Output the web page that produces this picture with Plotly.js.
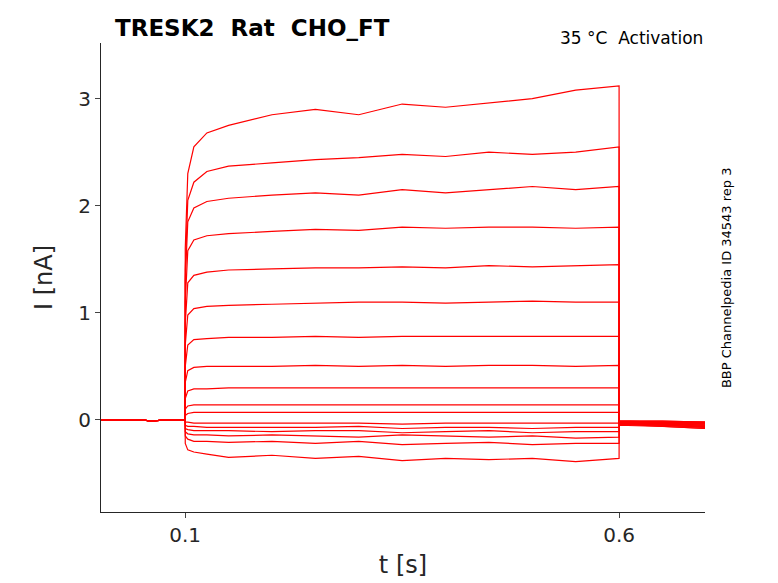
<!DOCTYPE html>
<html>
<head>
<meta charset="utf-8">
<script src="https://cdn.plot.ly/plotly-3.0.1.min.js"></script>
<style>body{margin:0;background:#fff}</style>
</head>
<body>
<div id="chart" style="width:778px;height:583px"></div>
<script>
// sample times (s)
const times = [0.003, 0.05, 0.06, 0.08, 0.1, 0.1001, 0.103, 0.11, 0.125, 0.15, 0.2, 0.25, 0.3, 0.35, 0.4, 0.45, 0.5, 0.55, 0.6, 0.6001, 0.65, 0.699];

// current sweeps (nA)
const sweeps = [
  [0, 0, -0.01, 0, 0, 1.6, 2.3, 2.55, 2.68, 2.75, 2.85, 2.9, 2.85, 2.95, 2.92, 2.96, 3.0, 3.08, 3.12, -0.04, -0.06, -0.08],
  [0, 0, -0.01, 0, 0, 1.4, 2.05, 2.22, 2.32, 2.37, 2.4, 2.43, 2.45, 2.48, 2.46, 2.5, 2.48, 2.5, 2.55, -0.04, -0.05, -0.07],
  [0, 0, -0.01, 0, 0, 1.3, 1.85, 1.98, 2.04, 2.07, 2.1, 2.12, 2.1, 2.15, 2.12, 2.15, 2.18, 2.15, 2.18, -0.03, -0.05, -0.07],
  [0, 0, -0.01, 0, 0, 1.1, 1.58, 1.68, 1.72, 1.74, 1.76, 1.78, 1.77, 1.8, 1.79, 1.8, 1.8, 1.79, 1.8, -0.03, -0.04, -0.06],
  [0, 0, -0.01, 0, 0, 0.9, 1.28, 1.35, 1.38, 1.4, 1.41, 1.42, 1.42, 1.43, 1.42, 1.44, 1.43, 1.44, 1.45, -0.03, -0.04, -0.05],
  [0, 0, -0.01, 0, 0, 0.7, 0.98, 1.04, 1.06, 1.07, 1.08, 1.09, 1.1, 1.1, 1.09, 1.1, 1.11, 1.1, 1.1, -0.02, -0.03, -0.05],
  [0, 0, -0.01, 0, 0, 0.5, 0.7, 0.75, 0.76, 0.77, 0.77, 0.78, 0.77, 0.78, 0.78, 0.78, 0.78, 0.78, 0.78, -0.02, -0.03, -0.04],
  [0, 0, -0.01, 0, 0, 0.35, 0.46, 0.49, 0.5, 0.5, 0.5, 0.51, 0.5, 0.51, 0.5, 0.51, 0.51, 0.5, 0.51, -0.02, -0.02, -0.03],
  [0, 0, -0.01, 0, 0, 0.2, 0.27, 0.29, 0.29, 0.3, 0.3, 0.3, 0.3, 0.3, 0.3, 0.3, 0.3, 0.3, 0.3, -0.01, -0.02, -0.03],
  [0, 0, -0.01, 0, 0, 0.1, 0.13, 0.14, 0.14, 0.14, 0.14, 0.14, 0.14, 0.14, 0.14, 0.14, 0.14, 0.14, 0.14, -0.01, -0.02, -0.02],
  [0, 0, -0.01, 0, 0, 0.04, 0.06, 0.07, 0.07, 0.07, 0.07, 0.07, 0.07, 0.07, 0.07, 0.07, 0.07, 0.07, 0.07, -0.01, -0.01, -0.02],
  [0, 0, -0.01, 0, 0, -0.02, -0.02, -0.03, -0.03, -0.03, -0.03, -0.03, -0.03, -0.04, -0.03, -0.03, -0.03, -0.03, -0.03, -0.01, -0.01, -0.02],
  [0, 0, -0.01, 0, 0, -0.05, -0.06, -0.06, -0.07, -0.07, -0.07, -0.07, -0.06, -0.08, -0.07, -0.07, -0.08, -0.07, -0.07, -0.02, -0.02, -0.03],
  [0, 0, -0.01, 0, 0, -0.08, -0.09, -0.1, -0.1, -0.1, -0.11, -0.1, -0.1, -0.12, -0.11, -0.1, -0.12, -0.11, -0.11, -0.02, -0.03, -0.04],
  [0, 0, -0.01, 0, 0, -0.11, -0.13, -0.14, -0.14, -0.15, -0.14, -0.15, -0.16, -0.14, -0.15, -0.16, -0.15, -0.17, -0.16, -0.03, -0.04, -0.05],
  [0, 0, -0.01, 0, 0, -0.15, -0.18, -0.2, -0.2, -0.21, -0.2, -0.22, -0.2, -0.23, -0.22, -0.21, -0.23, -0.22, -0.22, -0.04, -0.05, -0.06],
  [0, 0, -0.01, 0, 0, -0.22, -0.28, -0.3, -0.32, -0.35, -0.33, -0.36, -0.34, -0.38, -0.36, -0.37, -0.36, -0.39, -0.36, -0.05, -0.06, -0.08]
];

const xTicks = [0.1, 0.6];
const yTicks = [0, 1, 2, 3];

const traces = sweeps.map((ys) => ({
  x: times,
  y: ys,
  mode: 'lines',
  line: { color: '#ff0000', width: 1.2 },
  hoverinfo: 'skip',
}));

const layout = {
  width: 778,
  height: 583,
  showlegend: false,
  paper_bgcolor: '#ffffff',
  plot_bgcolor: '#ffffff',
  font: { family: 'DejaVu Sans', color: '#262626', size: 20 },
  margin: { l: 101, r: 73, t: 43, b: 71 },
  xaxis: {
    range: [0.003, 0.699],
    tickvals: xTicks,
    ticktext: ['0.1', '0.6'],
    ticks: 'outside',
    ticklen: 5,
    showgrid: false,
    zeroline: false,
    showline: true,
    linecolor: '#262626',
    tickfont: { size: 20 },
    title: { text: 't [s]', font: { size: 24 }, standoff: 10 },
  },
  yaxis: {
    range: [-0.86, 3.52],
    tickvals: yTicks,
    ticks: 'outside',
    ticklen: 5,
    showgrid: false,
    zeroline: false,
    showline: true,
    linecolor: '#262626',
    tickfont: { size: 20 },
    title: { text: 'I [nA]', font: { size: 24 }, standoff: 18 },
  },
  annotations: [
    { text: '<b>TRESK2  Rat  CHO_FT</b>', xref: 'paper', yref: 'paper', x: 0.02, y: 1.0,
      xanchor: 'left', yanchor: 'bottom', showarrow: false, font: { size: 23, color: '#000' } },
    { text: '35 °C  Activation', xref: 'paper', yref: 'paper', x: 1, y: 0.985,
      xanchor: 'right', yanchor: 'bottom', showarrow: false, font: { size: 17, color: '#000' } },
    { text: 'BBP Channelpedia ID 34543 rep 3', xref: 'paper', yref: 'paper', x: 1.02, y: 0.5,
      xanchor: 'left', yanchor: 'middle', textangle: -90, showarrow: false, font: { size: 13, color: '#000' } },
  ],
};

Plotly.newPlot('chart', traces, layout, { displayModeBar: false });
</script>
</body>
</html>
